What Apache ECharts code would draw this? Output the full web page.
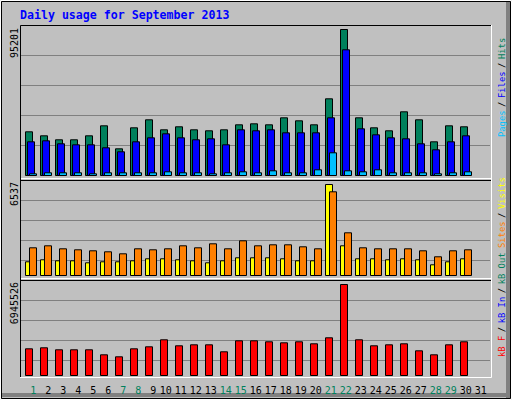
<!DOCTYPE html>
<html>
<head>
<meta charset="utf-8">
<script src="https://cdn.jsdelivr.net/npm/echarts@6/dist/echarts.min.js"></script>
<style>
html,body{margin:0;padding:0;background:#C0C0C0;}
#c{width:512px;height:400px;}
</style>
</head>
<body>
<div id="c"></div>
<script>
// ---- data ----
var days = ['1','2','3','4','5','6','7','8','9','10','11','12','13','14','15','16','17','18','19','20','21','22','23','24','25','26','27','28','29','30','31'];
var weekendDays = ['1','7','8','14','15','21','22','28','29'];
var hits   = [28950,26360,23770,23770,26360,32830,17940,31540,36720,30240,32190,30240,29600,30240,33480,34130,33480,38010,36070,33480,50320,95201,38010,31540,29600,41900,36720,22470,32830,32190,null];
var files  = [22470,23120,21180,20530,20530,18590,16000,22470,25060,27650,25060,23770,24410,20530,30240,29600,30240,28300,28300,28300,38010,82050,30890,27000,25060,24410,21180,17290,22470,26360,null];
var pages  = [1750,2400,2400,2400,1750,2400,2400,2400,2400,3040,2400,2400,1750,2400,3040,2400,3690,2400,2400,4340,15350,3690,3040,4340,2400,2400,2400,1750,2400,3040,null];
var visits = [1044,1187,1115,1115,973,1044,1044,1115,1258,1258,1187,1115,973,1115,1329,1329,1329,1258,1115,1115,6537,2181,1258,1258,1187,1258,1187,831,1044,1258,null];
var sites  = [2039,2181,1968,1897,1826,1755,1613,1968,1897,1968,2181,2039,2323,1968,2536,2181,2252,2252,2110,1968,6018,3105,2039,1968,1968,1968,1826,1400,1826,1897,null];
var kbytes = [2091000,2167000,2016000,2016000,2016000,1638000,1487000,2091000,2242000,2771000,2318000,2393000,2393000,1865000,2695000,2695000,2620000,2544000,2620000,2469000,2922000,6945526,2771000,2318000,2393000,2469000,1940000,1638000,2393000,2620000,null];
var maxLabels = ['95201','6537','6945526'];
var title = 'Daily usage for September 2013';

var C = {hits:'#00805C', files:'#0000FF', pages:'#00C0FF', visits:'#FFFF00', sites:'#FF8000', kbf:'#FF0000', kbin:'#0000FF', kbout:'#00805C', grid:'#808080'};

function maxOf(a){return Math.max.apply(null, a.filter(function(v){return v!=null;}));}

var chart = echarts.init(document.getElementById('c'), null, {renderer:'svg', width:512, height:400});

var hidden = {show:false};
function catX(g){return {type:'category', gridIndex:g, data:days, show:false, boundaryGap:true};}
function valY(g, max){return {type:'value', gridIndex:g, min:0, max:max, show:false};}
function splitX(g){return {type:'value', gridIndex:g, min:0, max:1, show:false};}
function splitY(g){return {type:'value', gridIndex:g, min:1, max:4, interval:1, axisLine:hidden, axisTick:hidden, axisLabel:hidden, splitLine:{show:true, lineStyle:{color:C.grid, width:1}}};}

function bar(name, data, xi, color, gap){
  return {name:name, type:'bar', xAxisIndex:xi, yAxisIndex:xi, data:data, barWidth:8, barGap:gap,
    itemStyle:{color:color, borderColor:'#000000', borderWidth:1}, silent:true, animation:false};
}

var mono = '"DejaVu Sans Mono", "Liberation Mono", monospace';

function lbl(txt, x, y){
  return {type:'text', x:x, y:y, rotation:Math.PI/2, style:{text:txt, fill:'#000', font:'10px '+mono, align:'right', verticalAlign:'middle'}};
}
// side legend: words at 8.8px, spaces around slashes narrower
function sideLbl(parts, x, y){
  var rich = {sp:{fontFamily:mono, fontSize:6}}, s = '';
  parts.forEach(function(p, i){
    rich['p'+i] = {fill:p[1], fontFamily:mono, fontSize:8.8};
    if (p[0] === '/') s += '{sp| }{p'+i+'|/}{sp| }';
    else s += '{p'+i+'|'+p[0]+'}';
  });
  return {type:'text', x:x, y:y, rotation:Math.PI/2, style:{text:s, rich:rich, font:'8.8px '+mono, align:'left', verticalAlign:'middle'}};
}

var option = {
  backgroundColor:'#C0C0C0',
  animation:false,
  grid:[
    {left:23.5, top:29, width:465, height:147},
    {left:23.5, top:184, width:465, height:92},
    {left:21.5, top:284, width:465, height:92},
    {left:21, top:55, width:469, height:90},
    {left:21, top:200, width:469, height:60},
    {left:21, top:300, width:469, height:60},
    {left:25.8, top:377, width:465, height:1}
  ],
  xAxis:[catX(0), catX(1), catX(2), splitX(3), splitX(4), splitX(5),
    {type:'category', gridIndex:6, data:days, axisLine:hidden, axisTick:hidden, splitLine:hidden,
     axisLabel:{interval:0, margin:7, fontFamily:mono, fontSize:10,
       formatter:function(v){ var k = weekendDays.indexOf(v)>=0 ? 'we' : 'wd'; return v.length>1 ? '{'+k+'2|'+v+'}' : '{'+k+'|'+v+'}'; },
       rich:{wd:{color:'#000'}, we:{color:C.hits}, wd2:{color:'#000', padding:[0,5,0,0]}, we2:{color:C.hits, padding:[0,5,0,0]}}}}],
  yAxis:[valY(0, maxOf(hits)), valY(1, maxOf(visits)), valY(2, maxOf(kbytes)), splitY(3), splitY(4), splitY(5),
    {type:'value', gridIndex:6, show:false}],
  series:[
    bar('Hits', hits, 0, C.hits, '-75%'),
    bar('Files', files, 0, C.files, '-75%'),
    bar('Pages', pages, 0, C.pages, '-75%'),
    bar('Visits', visits, 1, C.visits, '-50%'),
    bar('Sites', sites, 1, C.sites, '-50%'),
    bar('kB F', kbytes, 2, C.kbf, '-50%')
  ],
  graphic:[
    {type:'rect', shape:{x:0.5, y:0.5, width:511, height:399}, style:{fill:null, stroke:'#FFFFFF', lineWidth:1}, silent:true},
    {type:'rect', shape:{x:1.5, y:1.5, width:509, height:397}, style:{fill:null, stroke:'#000000', lineWidth:1}, silent:true},
    {type:'rect', shape:{x:506, y:2, width:4, height:396}, style:{fill:'#808080'}, silent:true},
    {type:'rect', shape:{x:2, y:393, width:508, height:4}, style:{fill:'#808080'}, silent:true},
    {type:'polyline', shape:{points:[[20.5,377],[20.5,25.5],[491,25.5]]}, style:{fill:null, stroke:'#000', lineWidth:1}, silent:true, z:10},
    {type:'polyline', shape:{points:[[20,377.5],[491.5,377.5],[491.5,25]]}, style:{fill:null, stroke:'#FFF', lineWidth:1}, silent:true, z:10},
    {type:'line', shape:{x1:21, y1:178.5, x2:491, y2:178.5}, style:{stroke:'#FFF', lineWidth:1}, silent:true, z:10},
    {type:'line', shape:{x1:21, y1:180.5, x2:491, y2:180.5}, style:{stroke:'#000', lineWidth:1}, silent:true, z:10},
    {type:'line', shape:{x1:21, y1:278.5, x2:491, y2:278.5}, style:{stroke:'#FFF', lineWidth:1}, silent:true, z:10},
    {type:'line', shape:{x1:21, y1:280.5, x2:491, y2:280.5}, style:{stroke:'#000', lineWidth:1}, silent:true, z:10},
    {type:'text', x:20, y:15, style:{text:title, fill:'#0000FF', font:'bold 11.6px '+mono, align:'left', verticalAlign:'middle'}, silent:true},
    lbl(maxLabels[0], 14, 28),
    lbl(maxLabels[1], 14, 182),
    lbl(maxLabels[2], 14, 282),
    sideLbl([['Pages',C.pages],['/','#000'],['Files',C.files],['/','#000'],['Hits',C.hits]], 502, 137),
    sideLbl([['Sites',C.sites],['/','#000'],['Visits',C.visits]], 502, 248),
    sideLbl([['kB F',C.kbf],['/','#000'],['kB In',C.kbin],['/','#000'],['kB Out',C.kbout]], 502, 357)
  ]
};
chart.setOption(option);
</script>
</body>
</html>
